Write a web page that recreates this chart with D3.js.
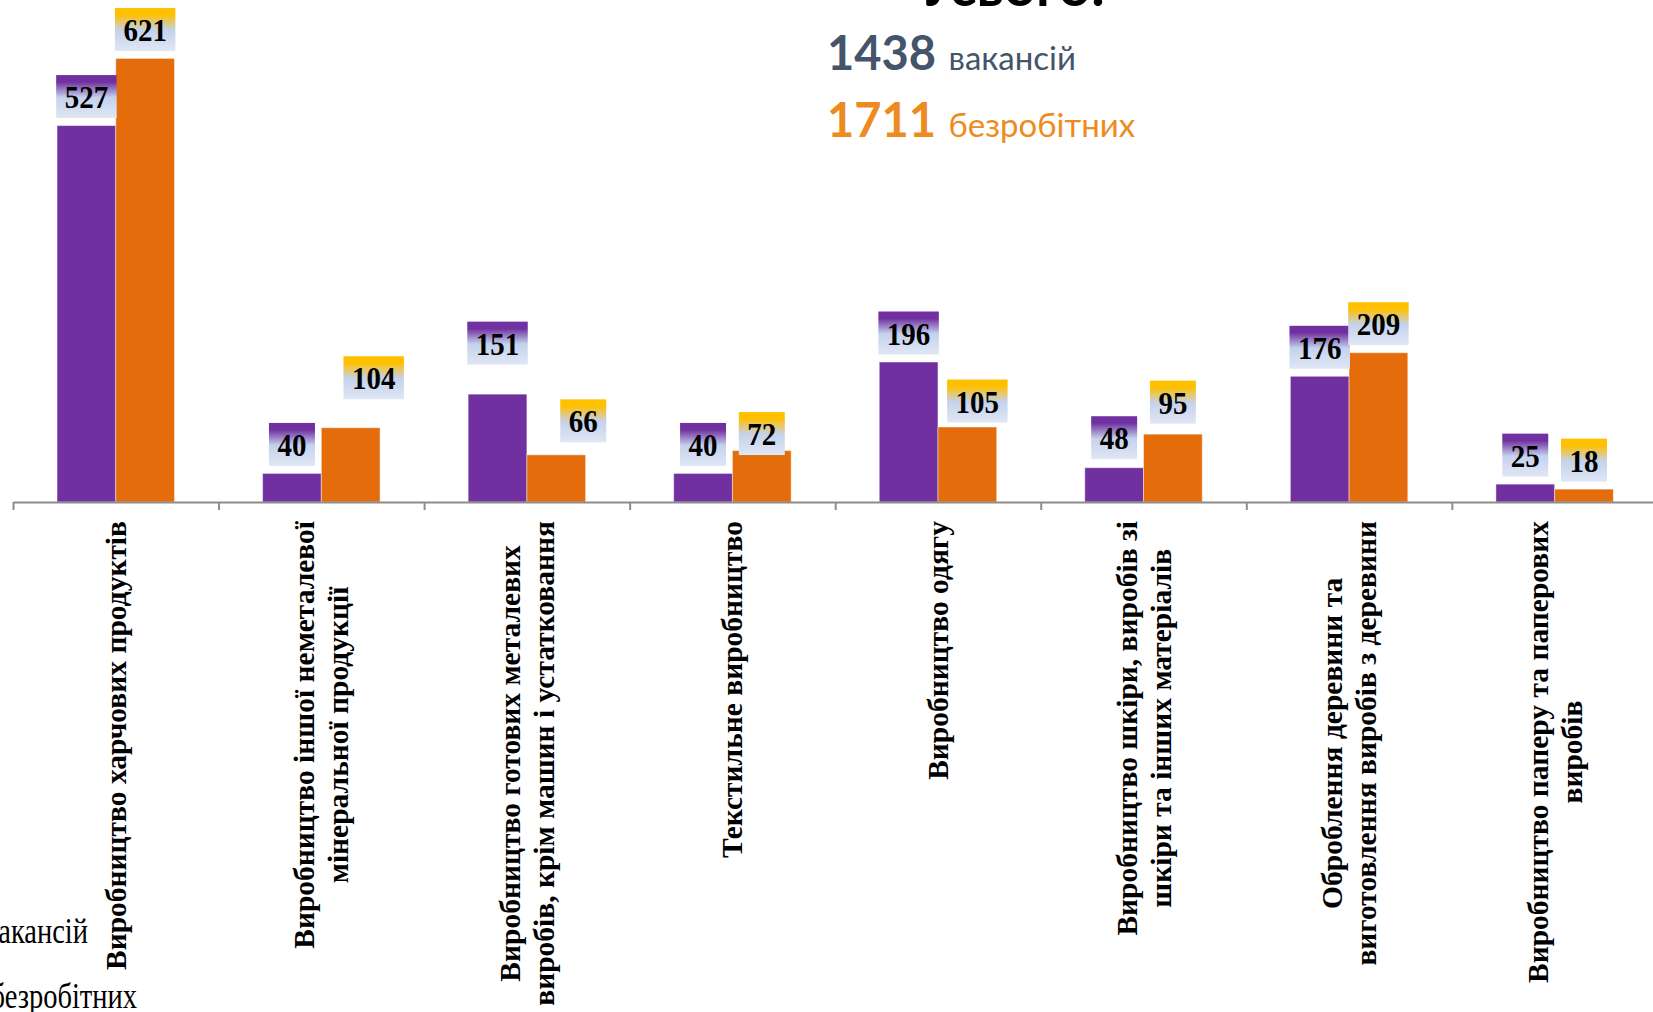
<!DOCTYPE html>
<html>
<head>
<meta charset="utf-8">
<script src="https://cdn.jsdelivr.net/npm/d3@7"></script>
<style>
  html, body { margin: 0; padding: 0; background: #fff; overflow: hidden; }
  svg { display: block; }
</style>
</head>
<body>
<svg id="chart" width="1653" height="1012"></svg>
<script>
// ---- data ----
const categories = [
  ["Виробництво харчових продуктів"],
  ["Виробництво іншої неметалевої", "мінеральної продукції"],
  ["Виробництво готових металевих", "виробів, крім машин і устатковання"],
  ["Текстильне виробництво"],
  ["Виробництво одягу"],
  ["Виробництво шкіри, виробів зі", "шкіри та інших матеріалів"],
  ["Оброблення деревини та", "виготовлення виробів з деревини"],
  ["Виробництво паперу та паперових", "виробів"]
];
const vacancies = [527, 40, 151, 40, 196, 48, 176, 25];
const unemployed = [621, 104, 66, 72, 105, 95, 209, 18];
const seriesNames = ["вакансій", "безробітних"];
const totalVacancies = 1438;
const totalUnemployed = 1711;
const titleText = "Усього:";

// ---- layout constants (manual label nudges as in the original, px) ----
const nudgeX = [[0, 0, 0, 0, 0, 0, 0, 0], [0, 23, 27, 0, 10, 0, 0, 0]];
const nudgeY = [[0, 0, 22, 0, 0, 1, 0, 0], [0, 21, 5, -12, -3, 3, 0, 0]];

const svg = d3.select("#chart");
const x0 = d3.scaleBand().domain(d3.range(categories.length)).range([13, 1657.4]).paddingInner(0).paddingOuter(0);
const x1 = d3.scaleBand().domain([0, 1]).range([0, x0.bandwidth()]).paddingInner(0).paddingOuter(0.75);
const y = d3.scaleLinear().domain([0, 700]).range([502, 2]);
const colors = ["#7030a0", "#e46c0a"];
const topColors = ["#7030a0", "#ffc000"];

// gradients
const defs = svg.append("defs");
topColors.forEach((c, i) => {
  const g = defs.append("linearGradient").attr("id", "lg" + i)
    .attr("x1", 0).attr("y1", 0).attr("x2", 0).attr("y2", 1);
  g.append("stop").attr("offset", "0").attr("stop-color", c);
  g.append("stop").attr("offset", "0.16").attr("stop-color", c);
  g.append("stop").attr("offset", "0.52").attr("stop-color", "#c5d2ed");
  g.append("stop").attr("offset", "1").attr("stop-color", "#e0e7f4");
});

// bars
const rows = categories.map((c, i) => ({ i, vals: [vacancies[i], unemployed[i]] }));
const groups = svg.append("g").selectAll("g").data(rows).join("g")
  .attr("transform", d => `translate(${x0(d.i)},0)`);

groups.selectAll("rect.bar").data(d => d.vals.map((v, s) => ({ v, s })))
  .join("rect").attr("class", "bar")
  .attr("x", d => x1(d.s))
  .attr("y", d => y(d.v))
  .attr("width", x1.bandwidth())
  .attr("height", d => y(0) - y(d.v))
  .attr("fill", d => colors[d.s])
  .attr("stroke", "rgba(255,255,255,0.45)")
  .attr("stroke-width", 1);

// axis
const xb = d3.scaleLinear().domain([0, categories.length]).range([13, 1657.4]);
const axis = svg.append("g").attr("transform", `translate(0,${y(0)})`)
  .call(d3.axisBottom(xb).tickValues(d3.range(categories.length + 1)).tickFormat("").tickSize(8).tickSizeOuter(0));
axis.select(".domain").attr("stroke", "#8c8c8c").attr("stroke-width", 2);
axis.selectAll(".tick line").attr("stroke", "#8c8c8c").attr("stroke-width", 2);

// value labels
groups.each(function (d) {
  const g = d3.select(this);
  d.vals.forEach((v, s) => {
    const cx = x1(s) + x1.bandwidth() / 2 + nudgeX[s][d.i];
    const bottom = y(v) - 7.5 - nudgeY[s][d.i];
    const lg = g.append("g");
    const rect = lg.append("rect").attr("fill", `url(#lg${s})`);
    const t = lg.append("text").text(v)
      .attr("transform", `translate(${cx},${bottom - 10}) scale(1,1.12)`)
      .attr("text-anchor", "middle")
      .attr("font-family", "'Liberation Serif', 'Times New Roman', serif")
      .attr("font-weight", "bold").attr("font-size", 29).attr("fill", "#000");
    const w = t.node().getComputedTextLength() + 17;
    rect.attr("x", cx - w / 2).attr("y", bottom - 43).attr("width", w).attr("height", 43);
  });
});

// category labels
categories.forEach((lines, i) => {
  const cx = x0(i) + x0.bandwidth() / 2;
  const g = svg.append("g").attr("transform", `translate(${cx},521) rotate(-90)`);
  const texts = lines.map((ln, k) => g.append("text").text(ln)
    .attr("font-family", "'Liberation Serif', 'Times New Roman', serif")
    .attr("font-weight", "bold").attr("font-size", 29.5).attr("fill", "#000")
    .attr("text-anchor", "middle"));
  const maxW = d3.max(texts, t => t.node().getComputedTextLength());
  const lh = 34;
  const n = lines.length;
  texts.forEach((t, k) => {
    t.attr("x", -maxW / 2).attr("y", (k - (n - 1) / 2) * lh + 10);
  });
});

// legend (partly off-canvas on the left)
const legendPos = [[88, 943], [137, 1008]];
seriesNames.forEach((txt, i) => {
  svg.append("text").text(txt)
    .attr("transform", `translate(${legendPos[i][0]},${legendPos[i][1]}) scale(1,1.27)`)
    .attr("text-anchor", "end")
    .attr("font-family", "'Liberation Serif', 'Times New Roman', serif")
    .attr("font-size", 28.5).attr("fill", "#000");
});

// title block
svg.append("text").text(titleText)
  .attr("x", 1012).attr("y", 6).attr("text-anchor", "middle")
  .attr("font-family", "Lato, 'Open Sans', sans-serif").attr("font-weight", "bold")
  .attr("font-size", 56).attr("fill", "#000");

const t1 = svg.append("text").attr("x", 827).attr("y", 70)
  .attr("font-family", "Lato, 'Open Sans', sans-serif").attr("fill", "#44546a");
t1.append("tspan").text(totalVacancies).attr("font-weight", "bold").attr("font-size", 47);
t1.append("tspan").text(" " + seriesNames[0]).attr("font-size", 33).attr("dx", 4);

const t2 = svg.append("text").attr("x", 827).attr("y", 137)
  .attr("font-family", "Lato, 'Open Sans', sans-serif").attr("fill", "#ed8b1e");
t2.append("tspan").text(totalUnemployed).attr("font-weight", "bold").attr("font-size", 47);
t2.append("tspan").text(" " + seriesNames[1]).attr("font-size", 33).attr("dx", 4);
</script>
</body>
</html>
